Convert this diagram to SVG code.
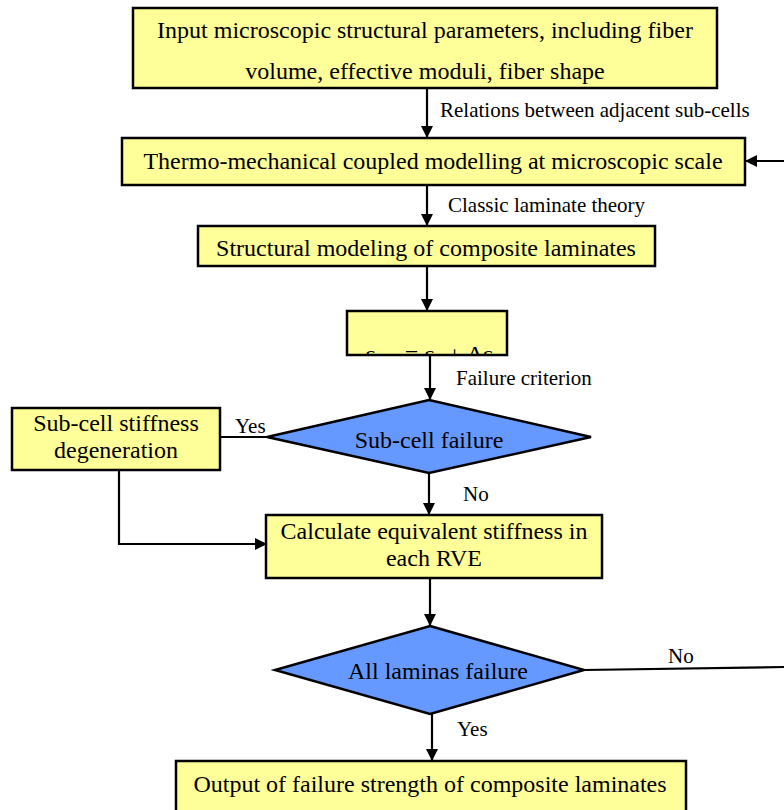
<svg xmlns="http://www.w3.org/2000/svg" width="784" height="810" viewBox="0 0 784 810">
<style>
.box{fill:#FFFF99;stroke:#000;stroke-width:2.5}
.dia{fill:#6699FF;stroke:#000;stroke-width:2.5}
.t{font-family:"Liberation Serif","Times New Roman",serif;font-size:24px;fill:#000;text-anchor:middle}
.l{font-family:"Liberation Serif","Times New Roman",serif;font-size:21px;fill:#000}
.c{fill:none;stroke:#000;stroke-width:2.2}
</style>
<defs>
<marker id="ah" viewBox="0 0 12 12" refX="11" refY="6" markerWidth="12" markerHeight="12" markerUnits="userSpaceOnUse" orient="auto">
<path d="M0,0 L12,6 L0,12 Z" fill="#000"/>
</marker>
<clipPath id="eqclip"><rect x="347" y="311" width="160" height="44"/></clipPath>
</defs>

<g id="connectors">
<line class="c" x1="427" y1="88" x2="427" y2="137" marker-end="url(#ah)"/>
<line class="c" x1="784" y1="161" x2="746" y2="161" marker-end="url(#ah)"/>
<line class="c" x1="427" y1="185" x2="427" y2="225" marker-end="url(#ah)"/>
<line class="c" x1="427" y1="266" x2="427" y2="310" marker-end="url(#ah)"/>
<line class="c" x1="430" y1="355" x2="430" y2="399" marker-end="url(#ah)"/>
<line class="c" x1="267" y1="437" x2="220" y2="437"/>
<polyline class="c" points="119,470 119,544 266,544" marker-end="url(#ah)"/>
<line class="c" x1="429" y1="473" x2="429" y2="514" marker-end="url(#ah)"/>
<line class="c" x1="430" y1="578" x2="430" y2="625" marker-end="url(#ah)"/>
<line class="c" x1="584" y1="670" x2="784" y2="667"/>
<line class="c" x1="432" y1="714" x2="432" y2="760" marker-end="url(#ah)"/>
<text class="l" x="440" y="117">Relations between adjacent sub-cells</text>
<text class="l" x="448" y="212">Classic laminate theory</text>
<text class="l" x="456" y="385">Failure criterion</text>
<text class="l" x="235" y="433">Yes</text>
<text class="l" x="463" y="501">No</text>
<text class="l" x="668" y="663">No</text>
<text class="l" x="457" y="736">Yes</text>
</g>

<g id="n1">
<rect class="box" x="133" y="8" width="584" height="80"/>
<text class="t" x="425" y="38">Input microscopic structural parameters, including fiber</text>
<text class="t" x="425" y="79">volume, effective moduli, fiber shape</text>
</g>
<g id="n2">
<rect class="box" x="122" y="138" width="623" height="47"/>
<text class="t" x="433" y="169">Thermo-mechanical coupled modelling at microscopic scale</text>
</g>
<g id="n3">
<rect class="box" x="198" y="226" width="457" height="40"/>
<text class="t" x="426" y="256">Structural modeling of composite laminates</text>
</g>
<g id="n4">
<rect class="box" x="347" y="311" width="160" height="44"/>
<text class="t" x="429" y="361.5" clip-path="url(#eqclip)">ε<tspan font-size="15" dy="3">n+1</tspan><tspan dy="-3"> = ε</tspan><tspan font-size="15" dy="3">n</tspan><tspan dy="-3"> + Δε</tspan></text>
</g>
<g id="n5">
<polygon class="dia" points="429,400 591,437 429,473 267,437"/>
<text class="t" x="429" y="448">Sub-cell failure</text>
</g>
<g id="n6">
<rect class="box" x="12" y="408" width="208" height="62"/>
<text class="t" x="116" y="431">Sub-cell stiffness</text>
<text class="t" x="116" y="458">degeneration</text>
</g>
<g id="n7">
<rect class="box" x="266" y="515" width="336" height="63"/>
<text class="t" x="434" y="539">Calculate equivalent stiffness in</text>
<text class="t" x="434" y="566">each RVE</text>
</g>
<g id="n8">
<polygon class="dia" points="430,626 584,670 430,714 275,670"/>
<text class="t" x="438" y="679">All laminas failure</text>
</g>
<g id="n9">
<rect class="box" x="176" y="761" width="510" height="60"/>
<text class="t" x="430" y="792">Output of failure strength of composite laminates</text>
</g>
</svg>
